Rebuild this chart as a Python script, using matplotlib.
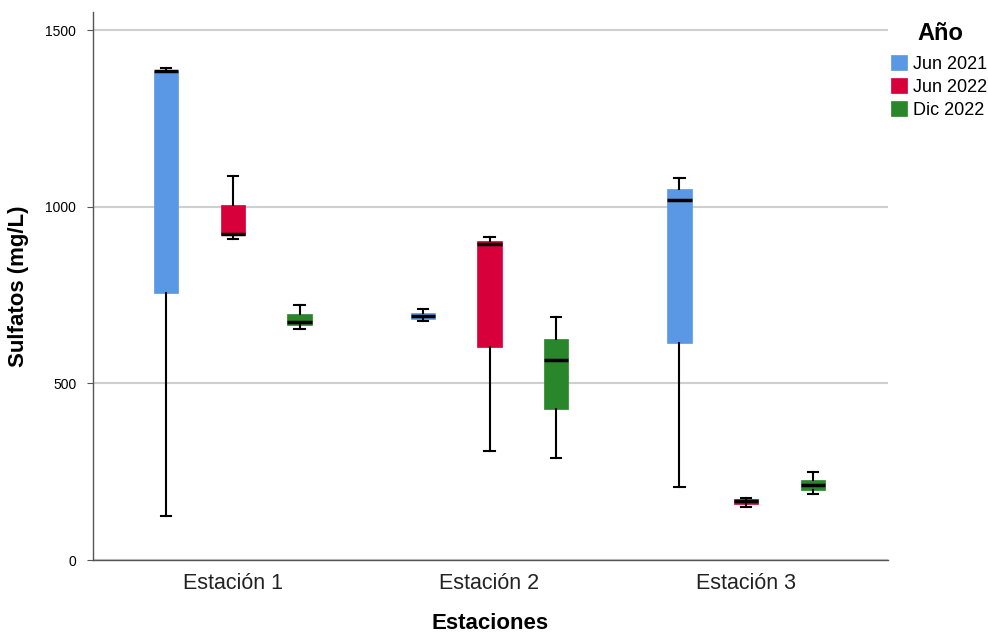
import matplotlib.pyplot as plt

plt.rcParams['font.family'] = ['Liberation Sans', 'DejaVu Sans']

estaciones = ['Estación 1', 'Estación 2', 'Estación 3']
periodos = ['Jun 2021', 'Jun 2022', 'Dic 2022']
colores = ['#5A98E6', '#D7003A', '#2A862A']

# per station, per period: (min, Q1, median, Q3, max)
jun2021 = [(125, 756, 1383, 1385, 1392),
           (677, 683, 690, 699, 710),
           (207, 613, 1019, 1049, 1080)]
jun2022 = [(909, 920, 924, 1005, 1087),
           (309, 602, 894, 902, 913),
           (149, 160, 168, 173, 177)]
dic2022 = [(655, 665, 675, 696, 722),
           (290, 427, 566, 627, 689),
           (186, 198, 212, 228, 248)]

series = [jun2021, jun2022, dic2022]
offsets = [-0.26, 0.0, 0.26]

fig = plt.figure(figsize=(9.88, 6.35), dpi=100)
ax = fig.add_axes([0.094, 0.118, 0.805, 0.863])

for vals, off, col, lab in zip(series, offsets, colores, periodos):
    stats = []
    for v in vals:
        stats.append({'whislo': v[0], 'q1': v[1], 'med': v[2], 'q3': v[3], 'whishi': v[4], 'fliers': []})
    pos = [i + 1 + off for i in range(len(vals))]
    bp = ax.bxp(stats, positions=pos, widths=0.095, patch_artist=True, showfliers=False,
                boxprops=dict(facecolor=col, edgecolor=col, linewidth=0.5),
                medianprops=dict(color='black', linewidth=2.5, solid_capstyle='butt'),
                whiskerprops=dict(color='black', linewidth=1.5),
                capprops=dict(color='black', linewidth=1.5),
                capwidths=0.04, zorder=3)
    bp['boxes'][0].set_label(lab)

ax.set_xlim(0.455, 3.553)
ax.set_ylim(0, 1551)
ax.set_yticks([0, 500, 1000, 1500])
ax.set_xticks([1, 2, 3])
ax.set_xticklabels(estaciones, fontsize=15.5, color='#222222')
ax.tick_params(axis='x', length=0, pad=9)
ax.tick_params(axis='y', labelsize=10, length=4, color='#555555', pad=8)
ax.yaxis.grid(True, color='#cfcfcf', linewidth=1.5)
ax.set_axisbelow(True)
for s in ['top', 'right']:
    ax.spines[s].set_visible(False)
for s in ['left', 'bottom']:
    ax.spines[s].set_color('#555555')
    ax.spines[s].set_linewidth(1.0)

ax.set_xlabel('Estaciones', fontsize=16, fontweight='bold', labelpad=14)
ax.set_ylabel('Sulfatos (mg/L)', fontsize=16, fontweight='bold', labelpad=12)

# legend title drawn separately to get the wider gap above the entries
fig.text(940 / 988, 1 - 33 / 635, 'Año', fontsize=17, fontweight='bold', ha='center', va='center')
leg = ax.legend(loc='upper left', bbox_to_anchor=(891 / 988, 1 - 55 / 635),
                bbox_transform=fig.transFigure, frameon=False, fontsize=13,
                handlelength=0.9, handleheight=0.9, handletextpad=0.3, labelspacing=0.3,
                borderaxespad=0, borderpad=0)

fig.savefig('out.png', dpi=100)
